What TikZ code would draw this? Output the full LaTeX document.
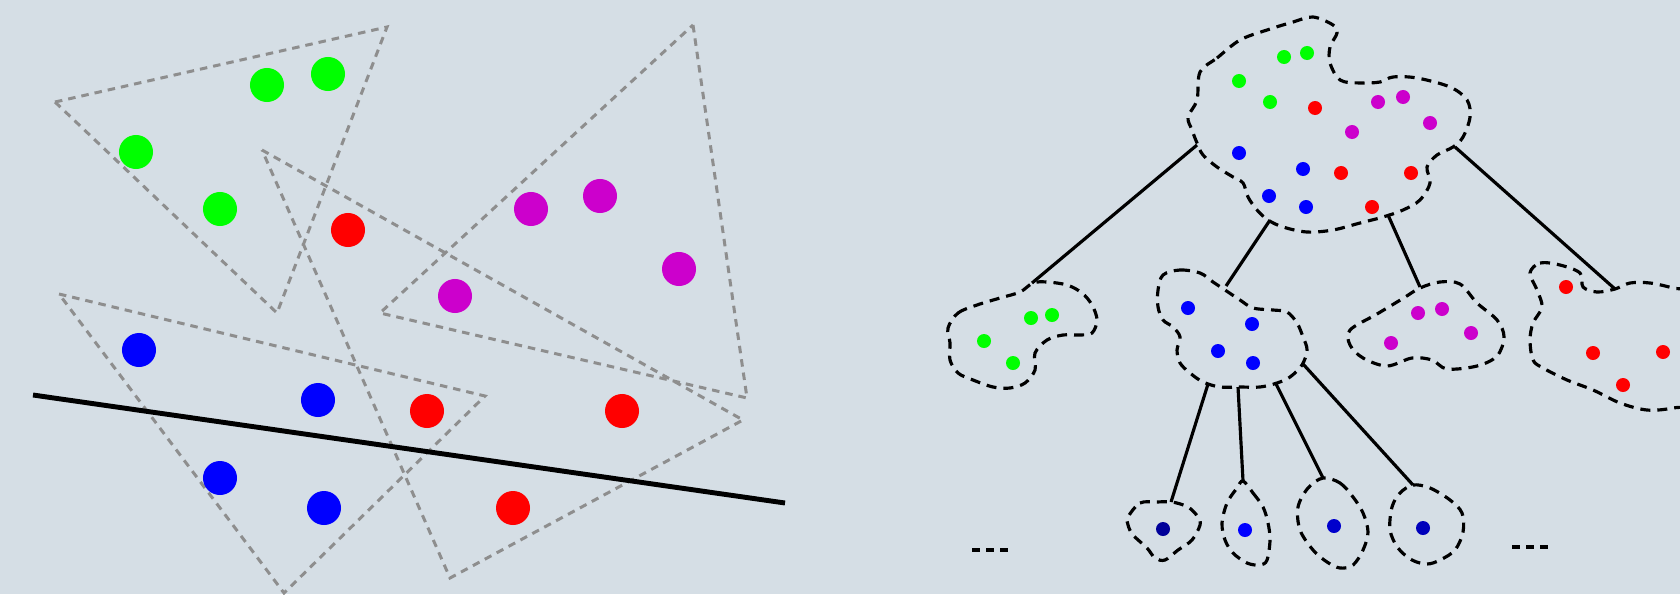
\documentclass[tikz,border=0pt]{standalone}
\definecolor{bg}{HTML}{D5DEE5}
\definecolor{trigray}{HTML}{8E8E8E}
\definecolor{ptgreen}{HTML}{00FF00}
\definecolor{ptred}{HTML}{FF0000}
\definecolor{ptmag}{HTML}{CC00CC}
\definecolor{ptblue}{HTML}{0000FF}
\definecolor{leafA}{HTML}{000099}
\definecolor{leafB}{HTML}{0000FF}
\definecolor{leafC}{HTML}{0000CC}
\definecolor{leafD}{HTML}{0000BB}

\begin{document}
\begin{tikzpicture}[
    x=0.01cm, y=-0.01cm,
    bigpt/.style={circle, inner sep=0pt, minimum size=3.4mm, fill=#1},
    smallpt/.style={circle, inner sep=0pt, minimum size=1.4mm, fill=#1},
    tri/.style={draw=trigray, line width=0.85pt, dash pattern=on 0.75mm off 0.6mm},
    blob/.style={draw=black, line width=0.9pt, dash pattern=on 1mm off 0.7mm,
        smooth cycle, tension=0.55},
    link/.style={draw=black, line width=0.9pt},
    cut/.style={draw=black, line width=1.4pt},
    etc/.style={draw=black, line width=1.1pt, dash pattern=on 0.75mm off 0.65mm},
]

% Background
\useasboundingbox[fill=bg] (0,0) rectangle (1680,594);
\clip (0,0) rectangle (1680,594);

% ---------- Left: points, triangles, cut ----------

% Triangles
\draw[tri] (55,102) -- (387,27) -- (277,313) -- cycle;
\draw[tri] (262,150) -- (743,420) -- (450,578) -- cycle;
\draw[tri] (59,294) -- (485,396) -- (284,593) -- cycle;
\draw[tri] (693,25) -- (747,398) -- (380,313) -- cycle;

% Green points
\node[bigpt=ptgreen] (g1) at (267,85) {};
\node[bigpt=ptgreen] (g2) at (328,74) {};
\node[bigpt=ptgreen] (g3) at (136,152) {};
\node[bigpt=ptgreen] (g4) at (220,209) {};

% Red points
\node[bigpt=ptred] (r1) at (348,230) {};
\node[bigpt=ptred] (r2) at (427,411) {};
\node[bigpt=ptred] (r3) at (622,411) {};
\node[bigpt=ptred] (r4) at (513,508) {};

% Magenta points
\node[bigpt=ptmag] (m1) at (531,209) {};
\node[bigpt=ptmag] (m2) at (600,196) {};
\node[bigpt=ptmag] (m3) at (679,269) {};
\node[bigpt=ptmag] (m4) at (455,296) {};

% Blue points
\node[bigpt=ptblue] (b1) at (139,350) {};
\node[bigpt=ptblue] (b2) at (318,400) {};
\node[bigpt=ptblue] (b3) at (220,478) {};
\node[bigpt=ptblue] (b4) at (324,508) {};

% Cutting line
\coordinate (cutL) at (33,395);
\coordinate (cutR) at (785,503);
\draw[cut] (cutL) -- (cutR);

% ---------- Right: cluster tree ----------

% Root cluster
\draw[blob] plot coordinates {(1200,72) (1217,58) (1240,40) (1267,30) (1293,22)
    (1313,17) (1333,25) (1337,33) (1330,47) (1330,63) (1340,80) (1360,83)
    (1380,82) (1393,77) (1417,78) (1450,87) (1467,100) (1470,117) (1463,137)
    (1453,147) (1437,155) (1427,167) (1430,183) (1420,200) (1403,210)
    (1383,217) (1360,223) (1333,230) (1307,232) (1283,227) (1268,220)
    (1257,210) (1248,197) (1243,183) (1233,177) (1217,167) (1203,155)
    (1197,143) (1192,130) (1188,117) (1197,100)};
\node[smallpt=ptgreen] (rg1) at (1284,57) {};
\node[smallpt=ptgreen] (rg2) at (1307,53) {};
\node[smallpt=ptgreen] (rg3) at (1239,81) {};
\node[smallpt=ptgreen] (rg4) at (1270,102) {};
\node[smallpt=ptred] (rr1) at (1315,108) {};
\node[smallpt=ptred] (rr2) at (1341,173) {};
\node[smallpt=ptred] (rr3) at (1411,173) {};
\node[smallpt=ptred] (rr4) at (1372,207) {};
\node[smallpt=ptmag] (rm1) at (1378,102) {};
\node[smallpt=ptmag] (rm2) at (1403,97) {};
\node[smallpt=ptmag] (rm3) at (1352,132) {};
\node[smallpt=ptmag] (rm4) at (1430,123) {};
\node[smallpt=ptblue] (rb1) at (1239,153) {};
\node[smallpt=ptblue] (rb2) at (1303,169) {};
\node[smallpt=ptblue] (rb3) at (1269,196) {};
\node[smallpt=ptblue] (rb4) at (1306,207) {};

% Green cluster
\draw[blob] plot coordinates {(948,328) (958,313) (977,305) (1000,298) (1020,292)
    (1033,283) (1047,282) (1067,285) (1082,293) (1092,305) (1097,320)
    (1092,333) (1080,335) (1063,335) (1047,340) (1035,353) (1035,370)
    (1025,383) (1010,388) (993,387) (973,380) (958,373) (950,360) (950,343)};
\node[smallpt=ptgreen] (cg1) at (1031,318) {};
\node[smallpt=ptgreen] (cg2) at (1052,315) {};
\node[smallpt=ptgreen] (cg3) at (984,341) {};
\node[smallpt=ptgreen] (cg4) at (1013,363) {};

% Blue cluster
\draw[blob] plot coordinates {(1163,275) (1180,270) (1200,273) (1213,282)
    (1225,290) (1240,300) (1253,308) (1273,310) (1287,312) (1297,323)
    (1303,337) (1307,350) (1302,365) (1290,377) (1277,383) (1260,387)
    (1240,387) (1220,387) (1203,382) (1190,373) (1180,363) (1177,350)
    (1180,337) (1173,327) (1163,320) (1158,307) (1158,290)};
\node[smallpt=ptblue] (cb1) at (1188,308) {};
\node[smallpt=ptblue] (cb2) at (1252,324) {};
\node[smallpt=ptblue] (cb3) at (1218,351) {};
\node[smallpt=ptblue] (cb4) at (1253,363) {};

% Magenta cluster
\draw[blob] plot coordinates {(1350,330) (1377,314) (1402,299) (1420,288)
    (1440,282) (1460,284) (1477,303) (1497,320) (1504,337) (1497,356)
    (1477,366) (1447,369) (1432,360) (1412,358) (1387,366) (1363,358)
    (1350,345)};
\node[smallpt=ptmag] (cm1) at (1418,313) {};
\node[smallpt=ptmag] (cm2) at (1442,309) {};
\node[smallpt=ptmag] (cm3) at (1471,333) {};
\node[smallpt=ptmag] (cm4) at (1391,343) {};

% Red cluster (runs off the right edge)
\draw[blob] plot coordinates {(1530,273) (1540,263) (1560,265) (1580,273)
    (1583,287) (1597,292) (1615,289) (1630,283) (1650,283) (1673,288)
    (1700,296) (1715,350) (1700,400) (1673,408) (1647,410) (1620,403)
    (1593,390) (1567,380) (1543,368) (1533,360) (1530,340) (1533,323)
    (1542,307) (1537,290)};
\node[smallpt=ptred] (cr1) at (1566,287) {};
\node[smallpt=ptred] (cr2) at (1593,353) {};
\node[smallpt=ptred] (cr3) at (1663,352) {};
\node[smallpt=ptred] (cr4) at (1623,385) {};

% Leaves under the blue cluster
\draw[blob] plot coordinates {(1128,517) (1140,503) (1157,502) (1172,502)
    (1188,507) (1198,517) (1200,525) (1192,540) (1178,550) (1165,560)
    (1155,558) (1147,548) (1133,535) (1128,525)};
\node[smallpt=leafA] (l1) at (1163,529) {};
\draw[blob] plot coordinates {(1243,481) (1253,493) (1263,507) (1268,523)
    (1270,540) (1267,560) (1260,565) (1247,563) (1233,553) (1225,540)
    (1222,523) (1227,503) (1237,488)};
\node[smallpt=leafB] (l2) at (1245,530) {};
\draw[blob] plot coordinates {(1323,478) (1340,483) (1353,497) (1363,513)
    (1368,532) (1363,550) (1353,565) (1340,568) (1327,562) (1313,550)
    (1300,530) (1298,507) (1308,488)};
\node[smallpt=leafC] (l3) at (1334,526) {};
\draw[blob] plot coordinates {(1413,485) (1430,488) (1450,500) (1462,513)
    (1463,532) (1455,550) (1440,560) (1427,564) (1412,560) (1398,548)
    (1390,530) (1392,507) (1400,493)};
\node[smallpt=leafD] (l4) at (1423,528) {};

% Attachment points
\coordinate (rootL) at (1197,145);
\coordinate (rootB) at (1270,220);
\coordinate (rootM) at (1388,215);
\coordinate (rootR) at (1455,147);
\coordinate (greenT) at (1032,283);
\coordinate (blueT) at (1226,286);
\coordinate (magT) at (1420,287);
\coordinate (redT) at (1615,289);
\coordinate (blueA) at (1208,384);
\coordinate (blueB) at (1238,387);
\coordinate (blueC) at (1276,384);
\coordinate (blueD) at (1303,364);
\coordinate (leafAT) at (1171,502);
\coordinate (leafBT) at (1243,481);
\coordinate (leafCT) at (1323,478);
\coordinate (leafDT) at (1413,485);

% Tree edges
\draw[link] (rootL) -- (greenT);
\draw[link] (rootB) -- (blueT);
\draw[link] (rootM) -- (magT);
\draw[link] (rootR) -- (redT);
\draw[link] (blueA) -- (leafAT);
\draw[link] (blueB) -- (leafBT);
\draw[link] (blueC) -- (leafCT);
\draw[link] (blueD) -- (leafDT);

% More leaves not shown
\coordinate (etcLa) at (972,550);
\coordinate (etcLb) at (1008,550);
\coordinate (etcRa) at (1512,547);
\coordinate (etcRb) at (1548,547);
\draw[etc] (etcLa) -- (etcLb);
\draw[etc] (etcRa) -- (etcRb);

\end{tikzpicture}
\end{document}
